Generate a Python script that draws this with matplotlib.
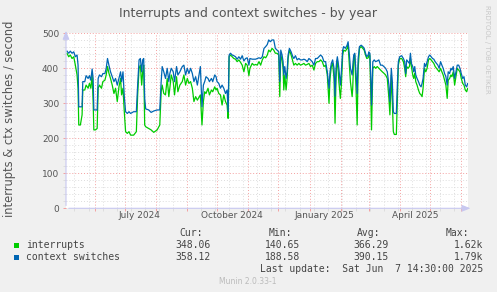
import datetime as dt

import matplotlib
matplotlib.use("Agg")
import matplotlib.pyplot as plt
import matplotlib.dates as mdates
from matplotlib.patches import Rectangle
from matplotlib.ticker import FixedLocator

# time span of the munin "by year" graph
start = dt.datetime(2024, 5, 3, 14, 30)
end = dt.datetime(2025, 6, 7, 14, 30)

# day offsets from start
days = [1, 2.7, 4.3, 6, 7.7, 9.3, 11, 12, 12.7, 14.3, 16, 16.7, 18.7, 20, 22, 23.3, 24.7, 26, 27, 27.7,
        29.3, 31, 32, 33.3, 35.3, 36.7, 38.7, 40, 41.3, 42.7, 44.3, 46, 47.7, 49.3, 51, 52.7, 54.3, 55.3,
        56.7, 58, 59.3, 61, 62.7, 64.3, 67.3, 70, 71.3, 72.7, 74, 75.3, 76.3, 77.3, 78.3, 79.3, 82.3, 84.7,
        87.3, 90.7, 93.3, 94.7, 95.7, 97.3, 99, 100.7, 102.3, 103.3, 104.7, 106.7, 108, 110, 111.3, 113.3,
        115.7, 117.3, 119, 120.7, 122.3, 124, 125.7, 127.3, 129, 130.7, 133.7, 135.3, 136.7, 138, 139.3,
        141.3, 142.7, 144.7, 146, 148, 149.3, 150.3, 152, 153.7, 155.3, 157, 158.7, 160.3, 161.3, 162.3,
        163.7, 165.3, 167, 168.7, 170.3, 172, 173.7, 175.3, 177, 178.7, 180.3, 182, 183, 185.3, 187, 188.7,
        190.3, 192, 193.7, 195.3, 197, 198.7, 200.3, 201.7, 203.3, 205, 206.7, 208.3, 210, 211.7, 212.7,
        213.7, 215, 216, 216.7, 217.7, 219, 220, 221, 222.3, 224, 225.7, 226.7, 228.3, 230, 231.7, 233.3,
        235, 236.7, 238.3, 240, 241.7, 243.3, 245, 246.7, 248.3, 250, 251.7, 253.3, 255, 256.7, 258.3, 260,
        261.7, 262.7, 264, 265.3, 266.7, 267.7, 268.7, 269.3, 270, 270.7, 271.5, 273, 274, 275.3, 276.3, 278,
        279.7, 280.7, 282, 283, 284.7, 285.3, 286.3, 287.3, 288.7, 289.7, 290.7, 292, 293.7, 295.3, 296.7,
        298, 299.3, 300.7, 301.3, 302.3, 303.3, 304, 305.3, 306.7, 308, 309.7, 311.3, 313, 314.7, 316.3,
        318, 319.7, 321.3, 322.3, 323.7, 324.7, 325.7, 326.7, 328.7, 329.7, 330.7, 332, 334, 335.7, 337,
        338, 339, 340.3, 341.7, 342.7, 343.7, 345, 346, 347, 348, 349.3, 350.7, 352, 353.3, 354.3, 355.3,
        356.7, 358, 359.3, 360.7, 362, 363.3, 364.7, 366, 367.3, 368.7, 370, 371.3, 372.7, 374, 375.3,
        376.7, 378, 379.3, 380.3, 381.7, 383, 384, 385.3, 386.7, 388, 389.3, 390.7, 392, 393.3, 394.7,
        396, 397.3, 398.7, 399.7, 400.7]

interrupts = [443, 433, 438, 428, 433, 409, 381, 343, 238, 238, 267, 338, 338, 352, 343, 357, 343, 381, 305, 224,
              224, 228, 343, 352, 343, 362, 366, 381, 405, 386, 371, 352, 328, 343, 305, 347, 371, 324,
              343, 276, 219, 214, 219, 209, 209, 219, 324, 400, 409, 352, 390, 409, 238, 233, 228, 224,
              217, 224, 238, 333, 352, 328, 324, 371, 319, 343, 381, 362, 324, 376, 333, 352,
              362, 381, 352, 371, 357, 362, 343, 305, 319, 309, 324, 238, 305, 333, 328,
              343, 324, 338, 333, 347, 338, 343, 328, 324, 295, 324, 305, 295, 257, 433,
              438, 433, 428, 426, 419, 424, 417, 409, 390, 414, 409, 379, 400, 414, 409, 411,
              409, 419, 409, 424, 433, 430, 438, 452, 447, 457, 452, 443, 443, 438, 319,
              438, 424, 400, 338, 381, 338, 371, 428, 452, 438, 419, 409, 414, 409, 414, 409,
              411, 414, 409, 411, 414, 405, 409, 395, 414, 419, 419, 424, 419, 405, 409, 381,
              300, 371, 405, 414, 371, 243, 371, 405, 424, 400, 362, 314, 352, 438, 452, 449,
              457, 466, 409, 362, 319, 343, 433, 438, 333, 238, 400, 457, 462, 457, 452,
              438, 428, 430, 438, 438, 324, 224, 400, 405, 400, 405, 400, 395, 390, 386,
              381, 371, 314, 267, 381, 305, 219, 211, 211, 305, 409, 428, 428, 419, 400,
              376, 405, 400, 405, 428, 405, 381, 371, 386, 362, 352, 338, 328, 324, 319, 343,
              400, 390, 400, 424, 428, 424, 419, 414, 405, 400, 395, 390, 400, 390, 381,
              366, 352, 314, 366, 371, 381, 376, 390, 352, 376, 400, 395, 390, 371, 357,
              352, 338, 333, 343, 338]

context_switches = [449, 443, 449, 443, 447, 433, 438, 409, 290, 290, 290, 362, 362, 379, 371, 379, 366, 398, 371, 281,
                    281, 281, 371, 381, 376, 385, 385, 400, 428, 409, 390, 376, 362, 371, 352, 371, 390, 362,
                    390, 319, 276, 271, 276, 271, 276, 276, 352, 424, 428, 390, 424, 428, 314, 284, 281, 274,
                    278, 281, 281, 362, 405, 390, 371, 400, 362, 385, 400, 390, 362, 405, 381, 390,
                    405, 409, 381, 400, 385, 400, 385, 362, 376, 352, 405, 290, 352, 362, 376,
                    371, 362, 371, 362, 381, 376, 362, 357, 343, 352, 343, 328, 338, 276, 438,
                    443, 438, 436, 433, 426, 433, 426, 436, 421, 428, 430, 409, 428, 426, 426, 426,
                    428, 430, 428, 433, 457, 462, 468, 481, 476, 481, 481, 457, 452, 447, 362,
                    452, 438, 419, 381, 405, 371, 390, 438, 457, 447, 433, 428, 436, 424, 428, 424,
                    424, 426, 424, 419, 428, 424, 419, 409, 428, 428, 433, 438, 433, 419, 419, 390,
                    343, 390, 414, 424, 400, 320, 400, 419, 433, 419, 400, 352, 390, 452, 462, 457,
                    466, 476, 438, 400, 381, 405, 438, 443, 381, 328, 428, 462, 466, 462, 457,
                    443, 433, 438, 447, 443, 371, 295, 419, 424, 419, 421, 424, 409, 409, 405,
                    400, 390, 352, 305, 400, 362, 276, 271, 271, 352, 419, 433, 436, 428, 419,
                    385, 424, 419, 414, 443, 414, 405, 390, 405, 381, 371, 362, 352, 347, 357, 371,
                    414, 405, 419, 433, 438, 433, 428, 426, 419, 414, 409, 400, 419, 409, 400,
                    385, 376, 352, 390, 385, 400, 395, 405, 371, 390, 409, 409, 400, 385, 371,
                    376, 352, 347, 357, 352]

series_names = ["interrupts", "context switches"]
series_colors = ["#00CC00", "#0066B3"]
cur_values = ["348.06", "358.12"]
min_values = ["140.65", "188.58"]
avg_values = ["366.29", "390.15"]
max_values = ["1.62k", "1.79k"]
month_labels = ["July 2024", "October 2024", "January 2025", "April 2025"]
label_months = [dt.datetime(2024, 7, 1), dt.datetime(2024, 10, 1), dt.datetime(2025, 1, 1), dt.datetime(2025, 4, 1)]

W, H = 497, 292


def fx(x):
    return x / W


def fy(y):
    return 1 - y / H


fig = plt.figure(figsize=(W / 100, H / 100), dpi=100, facecolor="#F0F0F0")
ax = fig.add_axes([fx(66), fy(208.3), (468 - 66) / W, (208.3 - 33.3) / H])
ax.set_facecolor("white")

dates = [start + dt.timedelta(days=d) for d in days]
ax.plot(dates, interrupts, color=series_colors[0], lw=0.9)
ax.plot(dates, context_switches, color=series_colors[1], lw=0.9)

ax.set_xlim(start, end)
ax.set_ylim(0, 500)

# grid like rrdtool: gray minor every two weeks, red major every month
biweekly = []
d = dt.datetime(2024, 5, 12)
while d < end:
    biweekly.append(mdates.date2num(d))
    d += dt.timedelta(days=14)
ax.xaxis.set_major_locator(mdates.MonthLocator())
ax.xaxis.set_minor_locator(FixedLocator(biweekly))
ax.set_yticks(range(0, 501, 100))
ax.set_yticks(range(0, 501, 20), minor=True)
ax.set_xticklabels([])
ax.grid(which="minor", color="#DDDDDD", linestyle=(0, (1, 2)), lw=0.7)
ax.grid(which="major", color="#F4A0A0", linestyle=(0, (1, 2)), lw=0.7)
ax.tick_params(which="both", length=2, width=0.7, color="#DDDDDD", direction="out",
               labelsize=6.5, labelcolor="#555555", pad=3)
ax.tick_params(which="major", color="#F4A0A0")
for s in ax.spines.values():
    s.set_visible(False)

# axis arrows
arrow = dict(arrowstyle="-|>,head_length=0.5,head_width=0.2", color="#C8C8F0", lw=0.8)
ax.annotate("", xy=(1.013, 0), xytext=(0, 0), xycoords="axes fraction", arrowprops=arrow)
ax.annotate("", xy=(0, 1.03), xytext=(0, 0), xycoords="axes fraction", arrowprops=arrow)

# month labels sit in the middle of their month
for m, lab in zip(label_months, month_labels):
    ax.text(m + dt.timedelta(days=15), -9, lab, ha="center", va="top", fontsize=6.5,
            color="#555555", clip_on=False)

fig.text(fx(248), fy(13), "Interrupts and context switches - by year", ha="center", va="center",
         fontsize=9, color="#555555")
fig.text(fx(10), fy(119), "interrupts & ctx switches / second", rotation=90, ha="center", va="center",
         fontsize=8.3, color="#555555")
fig.text(fx(487), fy(5), "RRDTOOL / TOBI OETIKER", rotation=270, ha="center", va="top",
         fontsize=5, color="#C8C8C8")

mono = dict(family="DejaVu Sans Mono", fontsize=7, color="#444444", va="center")
for lab, right in zip(["Cur:", "Min:", "Avg:", "Max:"], [203, 292, 380, 469]):
    fig.text(fx(right), fy(233), lab, ha="right", **mono)

rows_y = [245, 257.5]
for i in range(2):
    y = rows_y[i]
    fig.patches.append(Rectangle((fx(13.5), fy(y + 2.5)), 5 / W, 5 / H, transform=fig.transFigure,
                                 facecolor=series_colors[i], edgecolor="none"))
    fig.text(fx(26.5), fy(y), series_names[i], ha="left", **mono)
    fig.text(fx(211), fy(y), cur_values[i], ha="right", **mono)
    fig.text(fx(300), fy(y), min_values[i], ha="right", **mono)
    fig.text(fx(388.5), fy(y), avg_values[i], ha="right", **mono)
    fig.text(fx(483), fy(y), max_values[i], ha="right", **mono)

fig.text(fx(483), fy(269.5), "Last update:  Sat Jun  7 14:30:00 2025", ha="right", **mono)
fig.text(fx(248), fy(281), "Munin 2.0.33-1", ha="center", va="center", fontsize=5.5, color="#BBBBBB")

fig.savefig("out.png", dpi=100, facecolor=fig.get_facecolor())
